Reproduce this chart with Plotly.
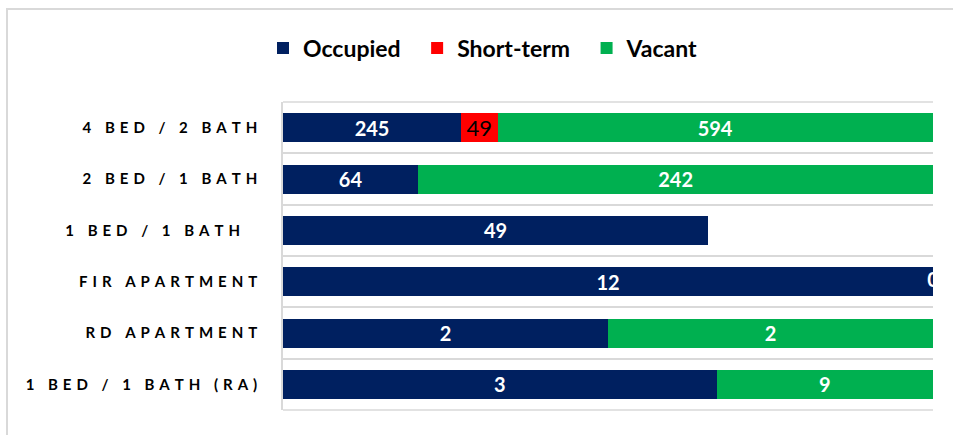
import plotly.graph_objects as go

# ---- data ----
categories = ["4 BED / 2 BATH", "2 BED / 1 BATH", "1 BED / 1 BATH  ",
              "FIR APARTMENT", "RD APARTMENT", "1 BED / 1 BATH (RA)"]
# share of the bar length (percent of axis) for each segment
occupied_share = [27.4, 20.8, 65.4, 100.0, 50.0, 66.7]
short_share = [5.6, 0.0, 0.0, 0.0, 0.0, 0.0]
vacant_share = [67.0, 79.2, 0.0, 0.0, 50.0, 33.3]
# data labels shown on the segments
occupied_label = ["245", "64", "49", "12", "2", "3"]
short_label = ["49", "", "", "", "", ""]
vacant_label = ["594", "242", "", "0", "2", "9"]

series_names = ["Occupied", "Short-term", "Vacant"]
colors = ["#002060", "#FF0000", "#00B050"]

SP = "\u2004"  # letter spacing


def spaced(s):
    return SP.join(list(s))


tick_text = [spaced(c) for c in categories]

fig = go.Figure()

label_font_white = dict(family="Lato", size=20, color="white", weight="bold")
label_font_black = dict(family="Lato", size=22, color="black", weight="normal")

series = [
    (series_names[0], occupied_share, occupied_label, colors[0], label_font_white),
    (series_names[1], short_share, short_label, colors[1], label_font_black),
    (series_names[2], vacant_share, vacant_label, colors[2], label_font_white),
]

for name, vals, labels, col, tf in series:
    fig.add_trace(go.Bar(
        name=name + "\u2002", y=categories, x=vals, orientation="h",
        marker=dict(color=col, line=dict(width=0)),
        text=labels, textposition="inside", insidetextanchor="middle",
        textangle=0, constraintext="none", textfont=tf,
        hoverinfo="skip",
    ))

# labels of zero-length segments (drawn at their stacked position, clipped by the axes)
zx, zy, zt = [], [], []
for i, c in enumerate(categories):
    if vacant_share[i] == 0 and vacant_label[i]:
        zx.append(occupied_share[i] + short_share[i] + vacant_share[i])
        zy.append(c)
        zt.append(vacant_label[i])
fig.add_trace(go.Scatter(
    x=zx, y=zy, text=zt, mode="text", textposition="middle center",
    textfont=label_font_white, cliponaxis=True, showlegend=False, hoverinfo="skip",
))

L, R, T, B = 283, 20, 102, 25
W, H = 953, 435
pw, ph = W - L - R, H - T - B


def px_x(x):
    return (x - L) / pw


def px_y(y):
    return (H - B - y) / ph


grid_col = "#d9d9d9"
shapes = [dict(
    type="rect", xref="paper", yref="paper",
    x0=px_x(7), x1=px_x(965), y0=px_y(448), y1=px_y(9),
    line=dict(color=grid_col, width=2), fillcolor="rgba(0,0,0,0)", layer="below",
)]
# outer category boundaries (top and bottom gridlines)
for yp in (0, 1):
    shapes.append(dict(type="line", xref="paper", yref="paper", x0=0, x1=1, y0=yp, y1=yp,
                       line=dict(color=grid_col, width=1.5), layer="below"))

fig.update_layout(
    width=W, height=H,
    margin=dict(l=L, r=R, t=T, b=B, pad=0, autoexpand=False),
    barmode="stack", bargap=0.435,
    paper_bgcolor="white", plot_bgcolor="white",
    font=dict(family="Lato", color="#000000"),
    showlegend=True,
    legend=dict(
        orientation="h", x=px_x(263), xanchor="left", y=px_y(48), yanchor="middle",
        font=dict(family="Lato", size=23, color="#000000", weight="bold"),
        traceorder="normal", itemwidth=30, bgcolor="rgba(0,0,0,0)",
    ),
    xaxis=dict(range=[0, 100], showgrid=False, showticklabels=False,
               zeroline=False, showline=False, fixedrange=True, automargin=False),
    yaxis=dict(
        autorange="reversed", tickson="boundaries", ticks="",
        tickmode="array", tickvals=categories, ticktext=tick_text,
        showgrid=True, gridcolor=grid_col, gridwidth=1.5,
        showline=True, linecolor=grid_col, linewidth=1.5,
        tickfont=dict(family="Lato", size=15, color="#000000", weight="bold"),
        ticklabelstandoff=21, fixedrange=True, automargin=False,
    ),
    shapes=shapes,
)

fig.write_html("out.html")
